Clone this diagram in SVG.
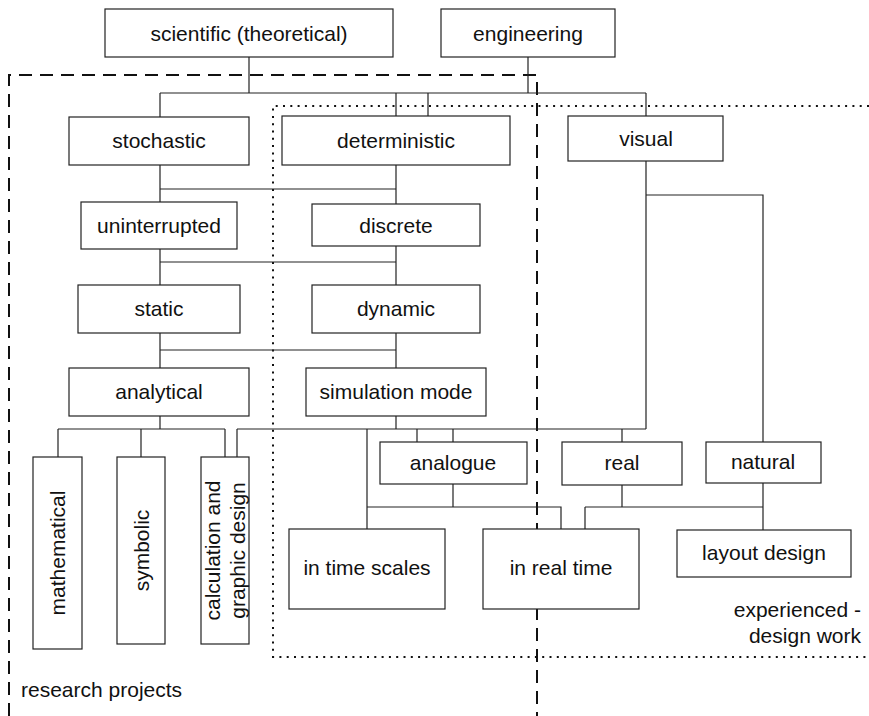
<svg xmlns="http://www.w3.org/2000/svg" width="869" height="716" viewBox="0 0 869 716">
<style>
.box{fill:#fff;stroke:#222;stroke-width:1.2}
.t{font-family:"Liberation Sans",Arial,sans-serif;font-size:21px;fill:#111;text-anchor:middle}
.c{fill:none;stroke:#222;stroke-width:1.2}
.dash{fill:none;stroke:#111;stroke-width:2;stroke-dasharray:13 8}
.dot{fill:none;stroke:#111;stroke-width:2;stroke-dasharray:2 5.3}
</style>
<rect width="869" height="716" fill="#fff"/>
<g id="regions">
<path class="dash" d="M9,716 V75 H537 V716"/>
<path class="dot" d="M869,106 H273 V657 H869"/>
</g>
<g id="connectors">
<path class="c" d="M249,57 V93 M160,93 H646 M160,93 V117 M396,93 V116 M528,57 V93 M428,93 V116 M646,93 V116"/>
<path class="c" d="M160,165 V202 M160,189 H396 M396,165 V204"/>
<path class="c" d="M160,249 V285 M160,262 H396 M396,246 V285"/>
<path class="c" d="M160,333 V368 M160,350 H396 M396,333 V368"/>
<path class="c" d="M160,416 V429 M58,429 H225 M58,429 V457 M141,429 V457 M225,429 V457"/>
<path class="c" d="M396,416 V429 M237,429 H646 M237,429 V457 M367,429 V529 M417,429 V442 M453,429 V442 M622,429 V442"/>
<path class="c" d="M646,161 V429 M646,195 H763 V442"/>
<path class="c" d="M453,484 V507 M367,507 H561 V529 M622,485 V507 M585,507 H763 M585,507 V529 M763,483 V530"/>
</g>
<g id="n-scientific"><rect class="box" x="105" y="9" width="288" height="48"/><text class="t" x="249" y="41">scientific (theoretical)</text></g>
<g id="n-engineering"><rect class="box" x="441" y="9" width="174" height="48"/><text class="t" x="528" y="41">engineering</text></g>
<g id="n-stochastic"><rect class="box" x="69" y="117" width="180" height="48"/><text class="t" x="159" y="148">stochastic</text></g>
<g id="n-deterministic"><rect class="box" x="282" y="116" width="228" height="49"/><text class="t" x="396" y="148">deterministic</text></g>
<g id="n-visual"><rect class="box" x="568" y="116" width="155" height="45"/><text class="t" x="646" y="146">visual</text></g>
<g id="n-uninterrupted"><rect class="box" x="81" y="202" width="156" height="47"/><text class="t" x="159" y="233">uninterrupted</text></g>
<g id="n-discrete"><rect class="box" x="312" y="204" width="168" height="42"/><text class="t" x="396" y="233">discrete</text></g>
<g id="n-static"><rect class="box" x="78" y="285" width="162" height="48"/><text class="t" x="159" y="316">static</text></g>
<g id="n-dynamic"><rect class="box" x="312" y="285" width="168" height="48"/><text class="t" x="396" y="316">dynamic</text></g>
<g id="n-analytical"><rect class="box" x="69" y="368" width="180" height="48"/><text class="t" x="159" y="399">analytical</text></g>
<g id="n-simulation"><rect class="box" x="306" y="368" width="180" height="48"/><text class="t" x="396" y="399">simulation mode</text></g>
<g id="n-mathematical"><rect class="box" x="33" y="457" width="49" height="192"/><text class="t" transform="translate(65,553) rotate(-90)">mathematical</text></g>
<g id="n-symbolic"><rect class="box" x="117" y="457" width="48" height="187"/><text class="t" transform="translate(148.5,550.5) rotate(-90)">symbolic</text></g>
<g id="n-calculation"><rect class="box" x="201" y="457" width="48" height="187"/><text class="t" transform="translate(220,550.5) rotate(-90)">calculation and</text><text class="t" transform="translate(245,550.5) rotate(-90)">graphic design</text></g>
<g id="n-analogue"><rect class="box" x="380" y="442" width="147" height="42"/><text class="t" x="453" y="470">analogue</text></g>
<g id="n-real"><rect class="box" x="562" y="442" width="120" height="43"/><text class="t" x="622" y="470">real</text></g>
<g id="n-natural"><rect class="box" x="706" y="442" width="115" height="41"/><text class="t" x="763" y="469">natural</text></g>
<g id="n-timescales"><rect class="box" x="289" y="529" width="156" height="80"/><text class="t" x="367" y="575">in time scales</text></g>
<g id="n-realtime"><rect class="box" x="483" y="529" width="156" height="80"/><text class="t" x="561" y="575">in real time</text></g>
<g id="n-layout"><rect class="box" x="677" y="530" width="174" height="47"/><text class="t" x="764" y="560">layout design</text></g>
<g id="labels">
<text class="t" x="21" y="697" style="text-anchor:start">research projects</text>
<text class="t" x="861" y="617" style="text-anchor:end">experienced -</text>
<text class="t" x="861" y="643" style="text-anchor:end">design work</text>
</g>
</svg>
